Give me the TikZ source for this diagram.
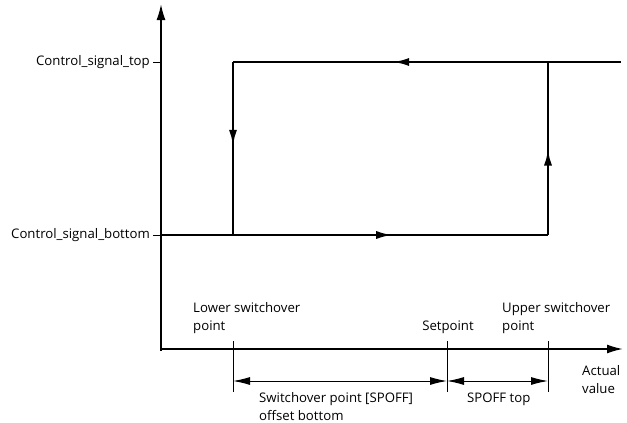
\documentclass[tikz,border=0pt]{standalone}
\usepackage{fontspec}
\setmainfont{Open Sans}
\usetikzlibrary{arrows.meta,positioning,decorations.markings}

\begin{document}
\begin{tikzpicture}[x=1pt,y=-1pt,
  axis/.style={line width=1.8pt,-{Latex[length=16pt,width=9pt]}},
  signal/.style={line width=2.8pt},
  midarrow/.style={postaction={decorate},decoration={markings,
    mark=at position #1 with {\arrow{Latex[length=17pt,width=8pt]}}}},
  helper/.style={line width=1pt},
  dimline/.style={line width=1pt,{Latex[length=17pt,width=8pt]}-{Latex[length=17pt,width=8pt]}},
  lbl/.style={font=\fontsize{13.2}{18}\selectfont,inner sep=0pt,align=left}]
  \useasboundingbox (0,0) rectangle (627,423);
  % axes
  \coordinate (O) at (161,349);
  \coordinate (ytip) at (161,4);
  \coordinate (xtip) at (623,349);
  \draw[axis] (161,351) -- (ytip);
  \draw[axis] (O) -- (xtip);
  % signal levels
  \coordinate (bl) at (161,235);
  \coordinate (lb) at (233,235);
  \coordinate (lt) at (233,62);
  \coordinate (ub) at (548,235);
  \coordinate (ut) at (548,62);
  \coordinate (tr) at (621,62);
  \draw[helper] (153,62) -- (161,62);
  \draw[helper] (153,235) -- (161,235);
  \node[lbl,anchor=east] (top) at (150,62) {Control\_signal\_top};
  \node[lbl,anchor=east] (bot) at (150,235) {Control\_signal\_bottom};
  % hysteresis loop
  \draw[signal,midarrow=0.6] (bl) -- (ub);
  \draw[signal,midarrow=0.5] (ub) -- (ut);
  \draw[signal,midarrow=0.59] (tr) -- (lt);
  \draw[signal,midarrow=0.49] (lt) -- (lb);
  % switchover points
  \coordinate (lo) at (233,341);
  \coordinate (sp) at (447,341);
  \coordinate (up) at (548,341);
  \draw[helper] (lo) -- ++(0,51);
  \draw[helper] (sp) -- ++(0,51);
  \draw[helper] (up) -- ++(0,51);
  \draw[dimline] (233,381) -- (447,381);
  \draw[dimline] (447,381) -- (548,381);
  \node[lbl,anchor=base west] (lsp) at (193,330) {Lower switchover\\point};
  \node[lbl,anchor=base] (set) at (448,330) {Setpoint};
  \node[lbl,anchor=base west] (usp) at (502,330) {Upper switchover\\point};
  \node[lbl,anchor=base west] (act) at (582,393) {Actual\\value};
  \node[lbl,anchor=base west] (offb) at (259,420) {Switchover point [SPOFF]\\offset bottom};
  \node[lbl,anchor=base west] (offt) at (467,402) {SPOFF top};
\end{tikzpicture}
\end{document}
